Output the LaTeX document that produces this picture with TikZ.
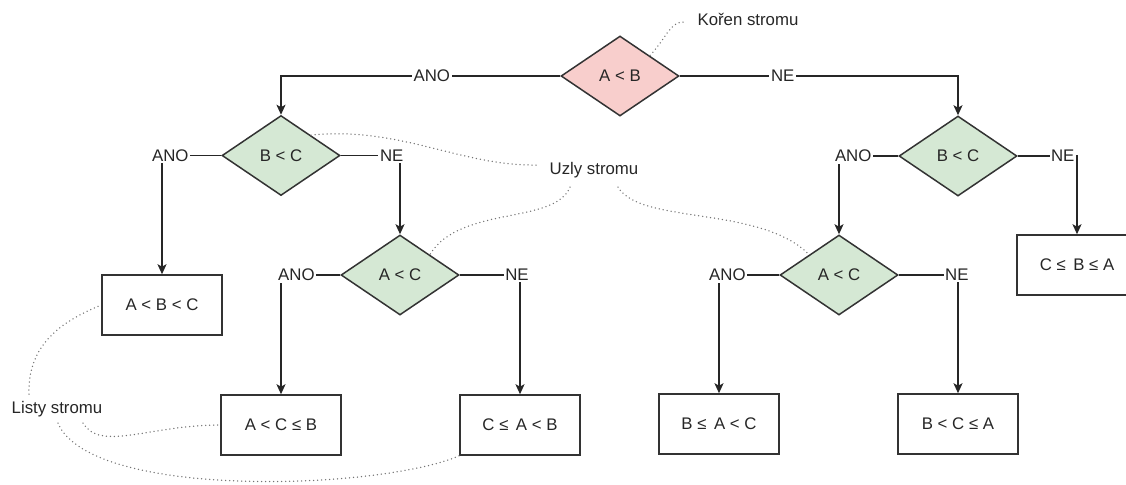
\documentclass[tikz,border=0pt]{standalone}
\usepackage{fontspec}
\setmainfont{Liberation Sans}
\usetikzlibrary{shapes.geometric,arrows.meta}
\definecolor{rootfill}{HTML}{F8CECC}
\definecolor{nodefill}{HTML}{D5E8D4}
\begin{document}
\begin{tikzpicture}[x=0.5pt,y=-0.5pt,
  font=\fontsize{8.4}{10}\selectfont, text=black!85,
  dec/.style={diamond, draw=black!80, line width=0.75pt,
    minimum width=59pt, minimum height=40pt, inner sep=0pt},
  leaf/.style={rectangle, draw=black!80, line width=0.75pt,
    minimum width=60pt, minimum height=30pt, inner sep=0pt},
  link/.style={draw=black!85, line width=0.75pt,
    -{Stealth[length=5pt,width=4.5pt,inset=1.2pt]}},
  lbl/.style={fill=white, inner sep=0.8pt},
  note/.style={draw=black!55, line width=0.75pt, line cap=round,
    dash pattern=on 0pt off 2pt},
]
\path[use as bounding box, clip] (0,0) rectangle (1126,484);

% decision nodes
\node[dec, fill=rootfill] (root) at (620,76) {A < B};
\node[dec, fill=nodefill] (bcL) at (281,155.5) {B < C};
\node[dec, fill=nodefill] (bcR) at (958,156) {B < C};
\node[dec, fill=nodefill] (acL) at (400,275) {A < C};
\node[dec, fill=nodefill] (acR) at (839,275) {A < C};

% leaves
\node[leaf] (abc) at (162,305) {A < B < C};
\node[leaf] (acb) at (281,425) {A < C ≤ B};
\node[leaf] (cab) at (520,425) {C ≤\, A < B};
\node[leaf] (bac) at (719,424) {B ≤\, A < C};
\node[leaf] (bca) at (958,424) {B < C ≤ A};
\node[leaf] (cba) at (1077,265) {C ≤\, B ≤ A};

% branches
\draw[link] (root.west) -| node[lbl,pos=0.23]{ANO} (bcL.north);
\draw[link] (root.east) -| node[lbl,pos=0.185]{NE} (bcR.north);
\draw[link] (bcL.west) -| node[lbl,pos=0.43]{ANO} (abc.north);
\draw[link] (bcL.east) -| node[lbl,pos=0.43]{NE} (acL.north);
\draw[link] (bcR.west) -| node[lbl,pos=0.38]{ANO} (acR.north);
\draw[link] (bcR.east) -| node[lbl,pos=0.38]{NE} (cba.north);
\draw[link] (acL.west) -| node[lbl,pos=0.37]{ANO} (acb.north);
\draw[link] (acL.east) -| node[lbl,pos=0.475]{NE} (cab.north);
\draw[link] (acR.west) -| node[lbl,pos=0.43]{ANO} (bac.north);
\draw[link] (acR.east) -| node[lbl,pos=0.49]{NE} (bca.north);

% annotations
\node (koren) at (748,19) {Kořen stromu};
\node (uzly) at (594,170) {Uzly stromu};
\node (listy) at (57,409) {Listy stromu};

\coordinate (k0) at (683,22);
\coordinate (u1) at (536,165);
\coordinate (u2) at (570,187);
\coordinate (u3) at (618,187);
\coordinate (l1) at (29,394);
\coordinate (l2) at (83,423);
\coordinate (l3) at (58,423);

\draw[note] (k0) .. controls (670,22) and (665,40) .. (root.north east);
\draw[note] (u1) .. controls (460,166) and (400,126) .. (bcL.north east);
\draw[note] (u2) .. controls (555,225) and (460,205) .. (acL.north east);
\draw[note] (u3) .. controls (640,225) and (760,205) .. (acR.north west);
\draw[note] (l1) .. controls (27,340) and (70,318) .. (abc.west);
\draw[note] (l2) .. controls (100,452) and (150,425) .. (acb.west);
\draw[note] (l3) .. controls (90,500) and (380,490) .. (cab.south west);
\end{tikzpicture}
\end{document}
